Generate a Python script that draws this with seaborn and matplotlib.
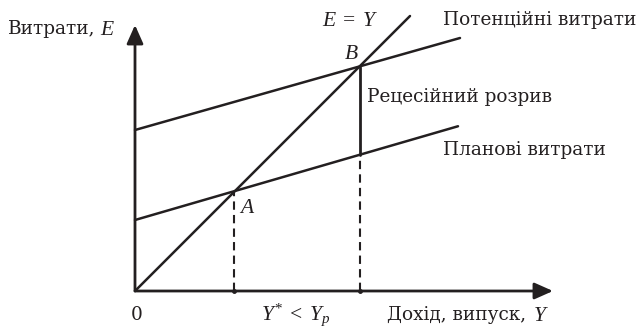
import matplotlib
matplotlib.use("Agg")
import matplotlib.pyplot as plt
import numpy as np
import pandas as pd
import seaborn as sns

# дані (одиниці умовні)
income_planned = [0, 12.92]
planned_spend = [2.84, 6.59]
income_potential = [0, 13.0]
potential_spend = [6.44, 10.12]
income_45 = [0, 11.0]
spend_45 = [0, 11.0]

y_star = 3.96      # точка A
y_pot = 8.98       # точка B
e_at_b = 8.98
e_planned_at_yp = 5.44

x_axis_end = 16.72
y_axis_end = 10.64

sns.set_theme(style="white")
plt.rcParams['font.family'] = ['DejaVu Serif']
plt.rcParams['mathtext.fontset'] = 'custom'
plt.rcParams['mathtext.rm'] = 'Liberation Serif'
plt.rcParams['mathtext.it'] = 'Liberation Serif:italic'

ink = '#231f20'

fig = plt.figure(figsize=(6.39, 3.32), dpi=100)
ax = fig.add_axes([0, 0, 1, 1])
ax.set_xlim(-5.4, 20.16)
ax.set_ylim(-1.64, 11.64)
ax.axis('off')

lines = pd.concat([
    pd.DataFrame({'Y': income_planned, 'E': planned_spend, 'k': 'planned'}),
    pd.DataFrame({'Y': income_potential, 'E': potential_spend, 'k': 'potential'}),
    pd.DataFrame({'Y': income_45, 'E': spend_45, 'k': '45'}),
])
sns.lineplot(data=lines, x='Y', y='E', units='k', estimator=None, color=ink, lw=1.8, ax=ax, legend=False)

# розрив
ax.plot([y_pot, y_pot], [e_planned_at_yp, e_at_b], color=ink, lw=2.0)
ax.plot([y_pot, y_pot], [0, e_planned_at_yp], color=ink, lw=1.5, ls=(0, (4, 2.5)))
ax.plot([y_star, y_star], [0, y_star], color=ink, lw=1.5, ls=(0, (4, 2.5)))
ax.plot([y_star, y_pot], [0, 0], 'o', color=ink, ms=2.5)

# осі
arr = dict(arrowstyle='-|>,head_length=0.45,head_width=0.2', mutation_scale=25,
           lw=2.0, color=ink, shrinkA=0, shrinkB=0)
ax.annotate('', xy=(x_axis_end, 0), xytext=(0, 0), arrowprops=arr)
ax.annotate('', xy=(0, y_axis_end), xytext=(0, 0), arrowprops=arr)

fs = 13.3   # кирилиця
ms = 15.5   # курсивні літери
ax.text(-5.08, 10.48, 'Витрати,', fontsize=fs, color=ink, ha='left', va='center')
ax.text(-1.38, 10.48, '$E$', fontsize=ms, color=ink, ha='left', va='center')
ax.text(7.48, 10.84, '$E\\;=\\;Y$', fontsize=ms, color=ink, ha='left', va='center')
ax.text(12.32, 10.84, 'Потенційні витрати', fontsize=fs, color=ink, ha='left', va='center')
ax.text(8.64, 9.52, '$B$', fontsize=ms, color=ink, ha='center', va='center')
ax.text(9.28, 7.76, 'Рецесійний розрив', fontsize=fs, color=ink, ha='left', va='center')
ax.text(12.32, 5.64, 'Планові витрати', fontsize=fs, color=ink, ha='left', va='center')
ax.text(4.48, 3.36, '$A$', fontsize=ms, color=ink, ha='center', va='center')
ax.text(0.08, -0.96, '0', fontsize=fs, color=ink, ha='center', va='center')
ax.text(5.04, -0.96, '$Y^{*}\\;<\\;Y_{p}$', fontsize=ms, color=ink, ha='left', va='center')
ax.text(10.08, -0.96, 'Дохід, випуск,', fontsize=fs, color=ink, ha='left', va='center')
ax.text(15.92, -0.96, '$Y$', fontsize=ms, color=ink, ha='left', va='center')

fig.savefig('out.png', dpi=100, facecolor='white')
